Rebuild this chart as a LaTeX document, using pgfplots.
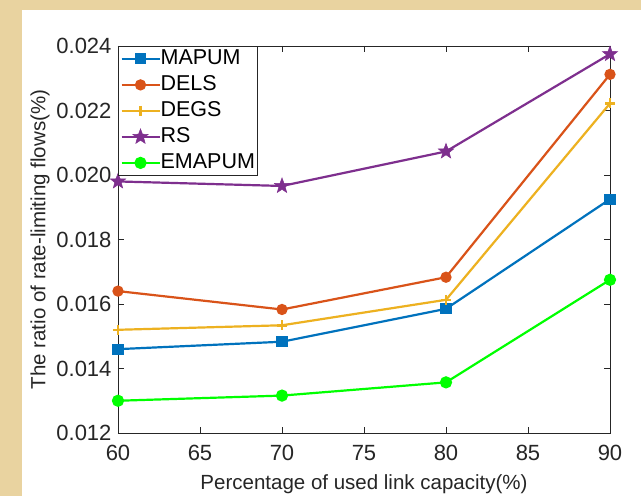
\documentclass[border=0pt]{standalone}
\usepackage{pgfplots}
\pgfplotsset{compat=1.18}
\usepackage{fontspec}
\setmainfont{Liberation Sans}

\definecolor{parch}{HTML}{E9D3A0}
\definecolor{mBlue}{HTML}{0072BD}
\definecolor{mOrange}{HTML}{D95319}
\definecolor{mYellow}{HTML}{EDB120}
\definecolor{mPurple}{HTML}{7E2F8E}
\definecolor{mGreen}{HTML}{00FF00}
\definecolor{axgray}{HTML}{262626}

% filled five-pointed star marker
\pgfdeclareplotmark{pstar}{%
  \pgfpathmoveto{\pgfpointpolar{90}{\pgfplotmarksize}}%
  \pgfpathlineto{\pgfpointpolar{126}{0.42\pgfplotmarksize}}%
  \pgfpathlineto{\pgfpointpolar{162}{\pgfplotmarksize}}%
  \pgfpathlineto{\pgfpointpolar{198}{0.42\pgfplotmarksize}}%
  \pgfpathlineto{\pgfpointpolar{234}{\pgfplotmarksize}}%
  \pgfpathlineto{\pgfpointpolar{270}{0.42\pgfplotmarksize}}%
  \pgfpathlineto{\pgfpointpolar{306}{\pgfplotmarksize}}%
  \pgfpathlineto{\pgfpointpolar{342}{0.42\pgfplotmarksize}}%
  \pgfpathlineto{\pgfpointpolar{18}{\pgfplotmarksize}}%
  \pgfpathlineto{\pgfpointpolar{54}{0.42\pgfplotmarksize}}%
  \pgfpathclose
  \pgfusepathqfillstroke}

\begin{document}
\begin{tikzpicture}
% page background and white figure panel
\fill[parch] (0pt,0pt) rectangle (641pt,496pt);
\fill[white] (22pt,0pt) rectangle (641pt,486pt);
\begin{axis}[
  at={(118pt,63pt)}, anchor=south west,
  scale only axis, width=492pt, height=387pt,
  xmin=60, xmax=90, ymin=0.012, ymax=0.024,
  xtick={60,65,...,90},
  ytick={0.012,0.014,...,0.0241},
  scaled y ticks=false,
  yticklabel style={/pgf/number format/fixed, /pgf/number format/fixed zerofill, /pgf/number format/precision=3, xshift=-3pt},
  xticklabel style={yshift=-9pt},
  /pgf/number format/assume math mode=true,
  tick align=inside,
  major tick length=6pt,
  axis line style={axgray, line width=0.8pt},
  tick style={axgray, line width=0.8pt},
  ticklabel style={font=\fontsize{22}{24}\selectfont, text=axgray},
  label style={font=\fontsize{20.5}{22}\selectfont, text=axgray},
  xlabel={Percentage of used link capacity(\%)},
  ylabel={The ratio of rate-limiting flows(\%)},
  xlabel style={yshift=-7pt},
  ylabel style={yshift=0pt},
  legend cell align=left,
  legend style={font=\fontsize{21.5}{23}\selectfont, draw=axgray, line width=0.8pt,
    inner xsep=2pt, inner ysep=3pt, row sep=7pt, at={(0,1)}, anchor=north west,
    nodes={inner sep=0pt, text height=15pt, text depth=4pt}},
  legend image code/.code={\draw[mark repeat=2, mark phase=2] plot coordinates {(0pt,0pt) (19pt,0pt) (38pt,0pt)};},
  every axis plot/.append style={line width=2.2pt},
]
\addplot[mBlue, mark=square*, mark size=4.5pt] coordinates {(60,0.01460) (70,0.01483) (80,0.01585) (90,0.01925)};
\addlegendentry{MAPUM}
\addplot[mOrange, mark=*, mark size=4.5pt] coordinates {(60,0.01640) (70,0.01583) (80,0.01683) (90,0.02312)};
\addlegendentry{DELS}
\addplot[mYellow, mark=+, mark size=5pt, mark options={line width=2.5pt}] coordinates {(60,0.01520) (70,0.01534) (80,0.01613) (90,0.02222)};
\addlegendentry{DEGS}
\addplot[mPurple, mark=pstar, mark size=8pt, mark options={line width=0.5pt}] coordinates {(60,0.01980) (70,0.01966) (80,0.02073) (90,0.02375)};
\addlegendentry{RS}
\addplot[mGreen, mark=*, mark size=5pt] coordinates {(60,0.01300) (70,0.01316) (80,0.01357) (90,0.01675)};
\addlegendentry{EMAPUM}
\end{axis}
\end{tikzpicture}
\end{document}
